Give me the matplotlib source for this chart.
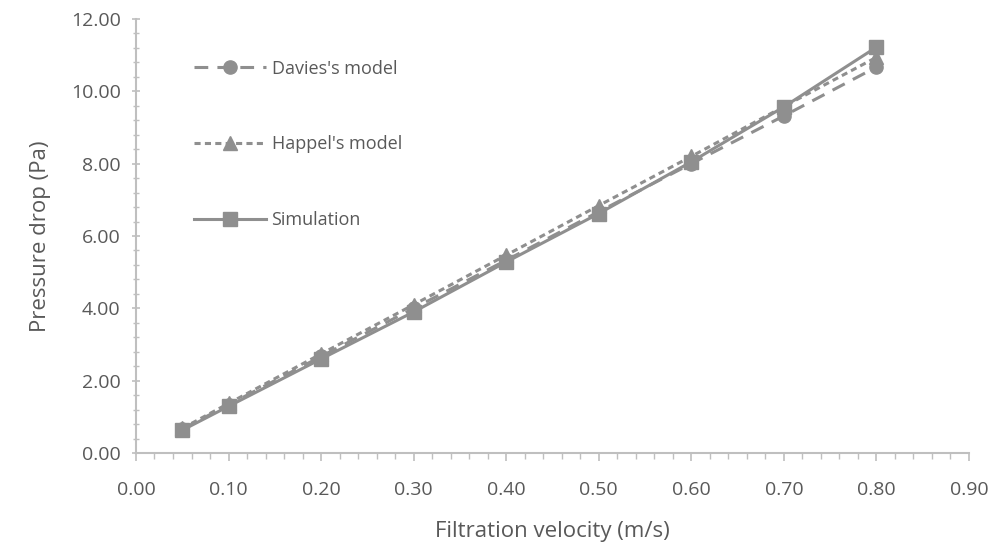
import matplotlib
matplotlib.use("Agg")
import matplotlib.pyplot as plt
from matplotlib.ticker import MultipleLocator, FormatStrFormatter

plt.rcParams['font.family'] = ['Open Sans', 'DejaVu Sans']

velocity = [0.05, 0.10, 0.20, 0.30, 0.40, 0.50, 0.60, 0.70, 0.80]
davies = [0.66, 1.33, 2.67, 4.00, 5.33, 6.67, 8.00, 9.32, 10.67]
happel = [0.68, 1.37, 2.74, 4.10, 5.47, 6.84, 8.20, 9.58, 10.94]
simulation = [0.63, 1.29, 2.60, 3.90, 5.28, 6.62, 8.05, 9.57, 11.22]

gray = '#8f8f8f'
text_gray = '#595959'
axis_gray = '#bfbfbf'

fig = plt.figure(figsize=(10.02, 5.49), dpi=100)
ax = fig.add_axes([0.1357, 0.1749, 0.967 - 0.1357, 0.9654 - 0.1749])

ax.plot(velocity, davies, color=gray, lw=2.2, dashes=(4.5, 3), marker='o', ms=9.5,
        label="Davies's model")
ax.plot(velocity, happel, color=gray, lw=2.2, dashes=(2, 1.4), marker='^', ms=9.5,
        label="Happel's model")
ax.plot(velocity, simulation, color=gray, lw=2.2, marker='s', ms=10.5,
        label="Simulation")

ax.set_xlim(0, 0.9)
ax.set_ylim(0, 12)
ax.xaxis.set_major_locator(MultipleLocator(0.1))
ax.xaxis.set_minor_locator(MultipleLocator(0.02))
ax.yaxis.set_major_locator(MultipleLocator(2))
ax.yaxis.set_minor_locator(MultipleLocator(0.4))
ax.xaxis.set_major_formatter(FormatStrFormatter('%.2f'))
ax.yaxis.set_major_formatter(FormatStrFormatter('%.2f'))

for s in ['top', 'right']:
    ax.spines[s].set_visible(False)
for s in ['left', 'bottom']:
    ax.spines[s].set_color(axis_gray)
    ax.spines[s].set_linewidth(1.5)

ax.tick_params(axis='both', which='major', colors=axis_gray, labelcolor=text_gray,
               labelsize=14, length=6, width=1.2, direction='out')
ax.tick_params(axis='y', which='both', direction='inout')
ax.tick_params(axis='both', which='minor', colors=axis_gray, length=4, width=1.0)
ax.tick_params(axis='x', which='major', pad=14)
ax.tick_params(axis='y', which='major', pad=8)

ax.set_xlabel('Filtration velocity (m/s)', fontsize=16, color=text_gray, labelpad=16)
ax.set_ylabel('Pressure drop (Pa)', fontsize=16, color=text_gray, labelpad=14)

leg = ax.legend(loc='upper left', bbox_to_anchor=(0.05, 0.944), frameon=False,
                fontsize=13, labelspacing=3.2, handlelength=4.0, handletextpad=0.3,
                labelcolor=text_gray)

fig.savefig('out.png', dpi=100)
